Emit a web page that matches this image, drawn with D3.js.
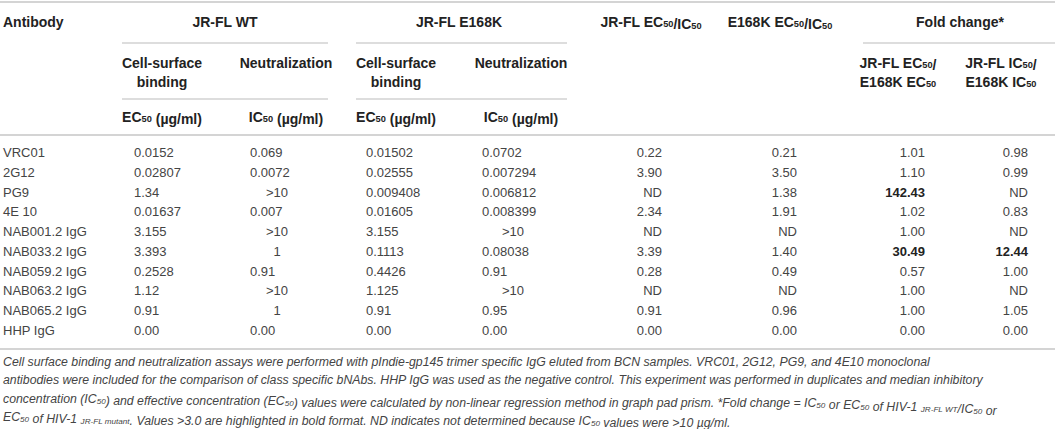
<!DOCTYPE html>
<html>
<head>
    <meta charset="utf-8">
    <title>Table</title>
    <script src="https://cdn.jsdelivr.net/npm/d3@7"></script>
    <style>
        body { margin: 0; background: #fff; }
        text { font-family: "Liberation Sans", Arial, sans-serif; }
    </style>
</head>
<body>
    <svg width="1055" height="429" id="mainsvg"></svg>
    <script>
        // values as printed in the table
        const antibodies = ['VRC01', '2G12', 'PG9', '4E 10', 'NAB001.2 IgG', 'NAB033.2 IgG', 'NAB059.2 IgG', 'NAB063.2 IgG', 'NAB065.2 IgG', 'HHP IgG'];
        const wtEC50 = ['0.0152', '0.02807', '1.34', '0.01637', '3.155', '3.393', '0.2528', '1.12', '0.91', '0.00'];
        const wtIC50 = ['0.069', '0.0072', '>10', '0.007', '>10', '1', '0.91', '>10', '1', '0.00'];
        const mutEC50 = ['0.01502', '0.02555', '0.009408', '0.01605', '3.155', '0.1113', '0.4426', '1.125', '0.91', '0.00'];
        const mutIC50 = ['0.0702', '0.007294', '0.006812', '0.008399', '>10', '0.08038', '0.91', '>10', '0.95', '0.00'];
        const wtRatio = ['0.22', '3.90', 'ND', '2.34', 'ND', '3.39', '0.28', 'ND', '0.91', '0.00'];
        const mutRatio = ['0.21', '3.50', '1.38', '1.91', 'ND', '1.40', '0.49', 'ND', '0.96', '0.00'];
        const foldEC = ['1.01', '1.10', '142.43', '1.02', '1.00', '30.49', '0.57', '1.00', '1.00', '0.00'];
        const foldIC = ['0.98', '0.99', 'ND', '0.83', 'ND', '12.44', '1.00', 'ND', '1.05', '0.00'];
        const boldThreshold = 3.0;

        const caption = [
            'Cell surface binding and neutralization assays were performed with pIndie-gp145 trimer specific IgG eluted from BCN samples. VRC01, 2G12, PG9, and 4E10 monoclonal',
            'antibodies were included for the comparison of class specific bNAbs. HHP IgG was used as the negative control. This experiment was performed in duplicates and median inhibitory',
            'concentration (IC_{50}) and effective concentration (EC_{50}) values were calculated by non-linear regression method in graph pad prism. *Fold change = IC_{50} or EC_{50} of HIV-1 _{JR-FL WT}/IC_{50} or',
            'EC_{50} of HIV-1 _{JR-FL mutant}. Values >3.0 are highlighted in bold format. ND indicates not determined because IC_{50} values were >10 \u00b5g/ml.'
        ];

        const svg = d3.select('svg');
        const width = +svg.attr('width');
        const dark = '#222';
        const grey = '#444';

        // writes "EC_{50}" style strings as text with small lowered tspans
        const rich = (sel, str, size) => {
            const parts = str.split(/(_\{[^}]*\})/).filter(d => d.length);
            parts.forEach(p => {
                if (p.startsWith('_{')) {
                    sel.append('tspan').attr('font-size', size * 0.66).attr('dy', 2).text(p.slice(2, -1));
                    sel.append('tspan').attr('dy', -2).text('');
                } else {
                    sel.append('tspan').text(p);
                }
            });
        };
        const label = (x, y, str, opts = {}) => {
            const size = opts.size || 13;
            const t = svg.append('text').attr('x', x).attr('y', y)
                .attr('font-size', size)
                .attr('font-weight', opts.bold ? 'bold' : 'normal')
                .attr('font-style', opts.italic ? 'italic' : 'normal')
                .attr('fill', opts.fill || (opts.bold ? dark : grey))
                .attr('text-anchor', opts.anchor || 'start')
                .attr('dominant-baseline', 'central');
            rich(t, str, size);
            return t;
        };
        const rule = (x1, x2, y, c = '#aaa', w = 1.2) => {
            svg.append('line').attr('x1', x1).attr('x2', x2).attr('y1', y).attr('y2', y)
                .attr('stroke', c).attr('stroke-width', w);
        };

        // horizontal rules
        rule(0, width, 2);
        rule(0, width, 135);
        rule(0, width, 349);
        rule(122, 328, 43, '#bbb', 1);
        rule(356, 567, 43, '#bbb', 1);
        rule(863, width, 43, '#bbb', 1);
        rule(122, 328, 99, '#bbb', 1);
        rule(356, 567, 99, '#bbb', 1);

        // header
        const hs = 14;
        label(3, 22, 'Antibody', { bold: true, size: hs });
        label(225, 22, 'JR-FL WT', { bold: true, size: hs, anchor: 'middle' });
        label(459, 22, 'JR-FL E168K', { bold: true, size: hs, anchor: 'middle' });
        label(651, 22, 'JR-FL EC_{50}/IC_{50}', { bold: true, size: hs, anchor: 'middle' });
        label(780, 22, 'E168K EC_{50}/IC_{50}', { bold: true, size: hs, anchor: 'middle' });
        label(960, 22, 'Fold change*', { bold: true, size: hs, anchor: 'middle' });

        [[162, 286], [396, 521]].forEach(([a, b]) => {
            label(a, 63, 'Cell-surface', { bold: true, size: hs, anchor: 'middle' });
            label(a, 82, 'binding', { bold: true, size: hs, anchor: 'middle' });
            label(b, 63, 'Neutralization', { bold: true, size: hs, anchor: 'middle' });
            label(a, 117, 'EC_{50} (\u00b5g/ml)', { bold: true, size: hs, anchor: 'middle' });
            label(b, 117, 'IC_{50} (\u00b5g/ml)', { bold: true, size: hs, anchor: 'middle' });
        });
        label(898, 63, 'JR-FL EC_{50}/', { bold: true, size: hs, anchor: 'middle' });
        label(898, 82, 'E168K EC_{50}', { bold: true, size: hs, anchor: 'middle' });
        label(1001, 63, 'JR-FL IC_{50}/', { bold: true, size: hs, anchor: 'middle' });
        label(1001, 82, 'E168K IC_{50}', { bold: true, size: hs, anchor: 'middle' });

        // body rows
        const y = d3.scalePoint().domain(antibodies).range([152, 330]);
        const columns = [
            { values: antibodies, x: 3, align: 'start' },
            { values: wtEC50, x: 134, align: 'start' },
            { values: wtIC50, x: 250, mid: 277, align: 'start' },
            { values: mutEC50, x: 366, align: 'start' },
            { values: mutIC50, x: 482, mid: 513, align: 'start' },
            { values: wtRatio, x: 662, align: 'end' },
            { values: mutRatio, x: 797, align: 'end' },
            { values: foldEC, x: 925, align: 'end', fold: true },
            { values: foldIC, x: 1028, align: 'end', fold: true }
        ];
        columns.forEach(col => {
            col.values.forEach((v, i) => {
                const whole = col.mid && !v.includes('.');
                const strong = col.fold && +v > boldThreshold;
                label(whole ? col.mid : col.x, y(antibodies[i]), v, {
                    size: 13,
                    anchor: whole ? 'middle' : col.align,
                    bold: strong,
                    fill: strong ? dark : grey
                });
            });
        });

        // footnote
        caption.forEach((line, i) => {
            label(3, 362 + i * 18.4, line, { italic: true, size: 12.3, fill: grey });
        });
    </script>
</body>
</html>
